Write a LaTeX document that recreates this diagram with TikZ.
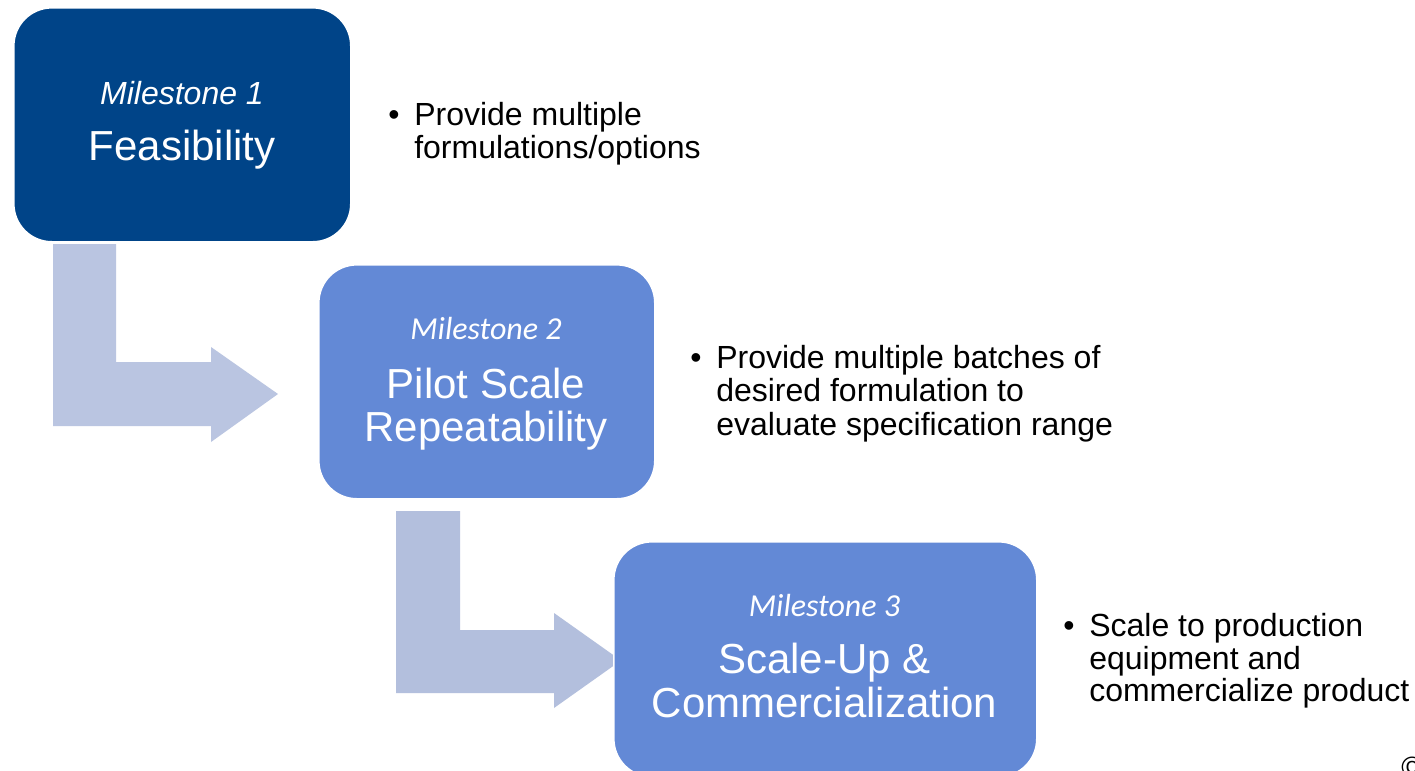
\documentclass[tikz,border=0pt]{standalone}
\usepackage{fontspec}
\setmainfont{Liberation Sans}
\newfontfamily\calib{Carlito}
\definecolor{darkblue}{RGB}{0,68,136}
\definecolor{midblue}{RGB}{99,137,214}
\definecolor{arrowA}{RGB}{186,197,225}
\definecolor{arrowB}{RGB}{179,191,221}
\begin{document}
\begin{tikzpicture}[x=0.75pt,y=-0.75pt,
  box/.style={draw=white, line width=1.2pt, rounded corners=28.5pt, anchor=north west, inner sep=0pt},
  ms/.style={text=white, font=\fontsize{24}{24}\selectfont\itshape, anchor=base, inner sep=0pt},
  msc/.style={text=white, font=\calib\fontsize{24}{24}\selectfont\itshape, anchor=base, inner sep=0pt},
  ttl/.style={text=white, font=\fontsize{31.5}{31.5}\selectfont, anchor=base, inner sep=0pt},
  bul/.style={font=\fontsize{24}{24}\selectfont, anchor=base west, inner sep=0pt}]
\useasboundingbox[fill=white] (0,0) rectangle (1415,771);
\clip (0,0) rectangle (1415,771);
% bent arrows
\fill[arrowA] (53,244) -- (116,244) -- (116,362) -- (211,362) -- (211,347) -- (278,394) -- (211,442) -- (211,426) -- (53,426) -- cycle;
\fill[arrowB] (396,511) -- (460,511) -- (460,630) -- (554,630) -- (554,613) -- (621,660.5) -- (554,708) -- (554,693) -- (396,693) -- cycle;
% boxes
\node[box, fill=darkblue, minimum width=252.75pt, minimum height=175.5pt] (b1) at (13,7) {};
\node[box, fill=midblue, minimum width=252pt, minimum height=175.5pt] (b2) at (318,264) {};
\node[box, fill=midblue, minimum width=317.25pt, minimum height=176.25pt] (b3) at (613,541) {};
% box texts
\node[ms] (m1) at (182,104) {Milestone 1};
\node[ttl] (t1) at (182,160) {Feasibility};
\node[msc] (m2) at (486,339) {Milestone 2};
\node[ttl] (t2a) at (486,398) {Pilot Scale};
\node[ttl] (t2b) at (486,441) {Repeatability};
\node[msc] (m3) at (824.5,616) {Milestone 3};
\node[ttl] (t3a) at (824.5,673) {Scale-Up \&};
\node[ttl] (t3b) at (824.5,717) {Commercialization};
% bullets
\node[bul] (d1) at (388,125) {•};
\node[bul] (l1a) at (414,125) {Provide multiple};
\node[bul] (l1b) at (414,158) {formulations/options};
\node[bul] (d2) at (690,368) {•};
\node[bul] (l2a) at (716,368) {Provide multiple batches of};
\node[bul] (l2b) at (716,401) {desired formulation to};
\node[bul] (l2c) at (716,435) {evaluate specification range};
\node[bul] (d3) at (1063,636) {•};
\node[bul] (l3a) at (1089,636) {Scale to production};
\node[bul] (l3b) at (1089,669) {equipment and};
\node[bul] (l3c) at (1089,701) {commercialize product};
% partially visible copyright mark, cut by the edge as in the reference
\node[anchor=north west, inner sep=0pt, font=\fontsize{22}{22}\selectfont] (copy) at (1401,757) {©};
\end{tikzpicture}
\end{document}
